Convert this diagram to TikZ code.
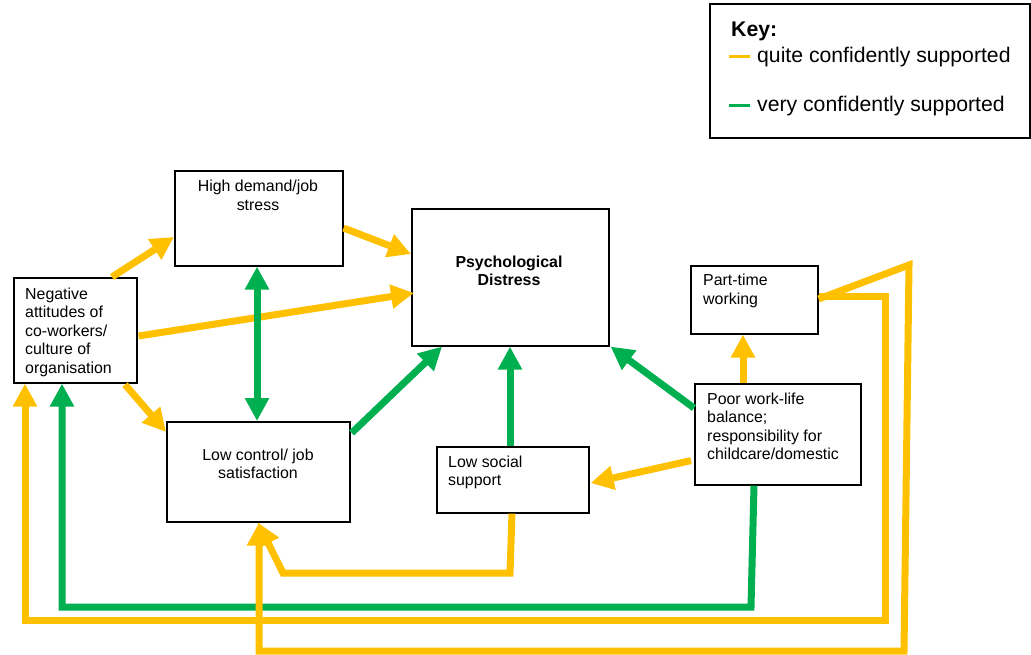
\documentclass[tikz,border=0pt]{standalone}
\usepackage{fontspec}
\setmainfont{Liberation Sans}
\usetikzlibrary{arrows.meta,calc}
\definecolor{qyel}{HTML}{FFC000}
\definecolor{vgrn}{HTML}{00B050}
\begin{document}
\begin{tikzpicture}[x=1pt,y=-1pt,
  box/.style={draw=black,line width=1.6pt,fill=white,inner sep=0pt,anchor=north west},
  txt/.style={inner sep=0pt,font=\fontsize{15.9}{18.5}\selectfont},
  keytxt/.style={inner sep=0pt,anchor=base west,font=\fontsize{21.2}{24}\selectfont},
  quite/.style={draw=qyel,line width=7pt},
  very/.style={draw=vgrn,line width=7pt},
  headed/.style={-{Triangle[length=23pt,width=23pt]}},
  twoheaded/.style={{Triangle[length=23pt,width=23pt]}-{Triangle[length=23pt,width=23pt]}},
  ]
\useasboundingbox (0,0) rectangle (1031,655);

% key
\node[box,minimum width=320pt,minimum height=134pt] (key) at (709,3) {};
\node[keytxt,font=\fontsize{21.2}{24}\selectfont\bfseries] (keyt) at (731,37) {Key:};
\node[keytxt] (kq) at (757,63) {quite confidently supported};
\node[keytxt] (kv) at (757,112) {very confidently supported};
\draw[draw=qyel,line width=3pt] ($(kq.base west)+(-28,-6)$) -- ++(21,0);
\draw[draw=vgrn,line width=3pt] ($(kv.base west)+(-28,-6)$) -- ++(21,0);

% boxes
\node[box,minimum width=168pt,minimum height=95pt] (hd) at (174,170) {};
\node[box,minimum width=123pt,minimum height=105pt] (neg) at (13,277) {};
\node[box,minimum width=197pt,minimum height=137pt] (pd) at (411,208) {};
\node[box,minimum width=127pt,minimum height=68pt] (pt) at (690,265) {};
\node[box,minimum width=166pt,minimum height=101pt] (pw) at (694,383) {};
\node[box,minimum width=183pt,minimum height=100pt] (lc) at (166,421) {};
\node[box,minimum width=152pt,minimum height=66pt] (ls) at (436,446) {};

% texts (base anchor = baseline of the last line)
\node[txt,anchor=base,align=center] (hdt) at (258,210.5) {High demand/job\\stress};
\node[txt,anchor=base west,align=left] (negt) at (25,373) {Negative\\attitudes of\\co-workers/\\culture of\\organisation};
\node[txt,anchor=base,align=center,font=\fontsize{15.9}{18.5}\selectfont\bfseries] (pdt) at (509,285.5) {Psychological\\Distress};
\node[txt,anchor=base west,align=left] (ptt) at (703,304.5) {Part-time\\working};
\node[txt,anchor=base west,align=left] (pwt) at (707,459.5) {Poor work-life\\balance;\\responsibility for\\childcare/domestic};
\node[txt,anchor=base,align=center] (lct) at (258,478.5) {Low control/ job\\satisfaction};
\node[txt,anchor=base west,align=left] (lst) at (448,485.5) {Low social\\support};

% connectors
\draw[quite,headed] ($(neg.north west)+(99,0)$) -- ($(hd.north west)+(0,67)$);
\draw[quite,headed] ($(hd.north east)+(0,58)$) -- ($(pd.north west)+(0,46)$);
\draw[quite,headed] ($(neg.north east)+(1,59)$) -- ($(pd.north west)+(3,85)$);
\draw[very,twoheaded] ($(hd.south west)+(83,0)$) -- ($(lc.north west)+(91,0)$);
\draw[quite,headed] ($(neg.south west)+(112,1)$) -- ($(lc.north west)+(0,11)$);
\draw[very,headed] ($(lc.north east)+(1,12)$) -- ($(pd.south west)+(31,0)$);
\draw[very,headed] ($(ls.north west)+(74,0)$) -- ($(pd.south west)+(99,0)$);
\draw[very,headed] ($(pw.north west)+(0,25)$) -- ($(pd.south east)+(1,0)$);
\draw[quite,headed] ($(pw.north west)+(49,0)$) -- ($(pt.south west)+(53,0)$);
\draw[quite,headed] ($(pw.south west)+(-3,-25)$) -- ($(ls.north east)+(1,37)$);

\draw[quite,headed] ($(ls.south west)+(76,0)$) -- (510,573) -- (283,573) -- ($(lc.south west)+(92,0)$);
\draw[very,headed] ($(pw.south west)+(60,0)$) -- (751,607) -- (62,607) -- ($(neg.south west)+(49,0)$);
\draw[quite,headed] ($(pt.north east)+(0,31)$) -- (885,296) -- (885,620) -- (25,620) -- ($(neg.south west)+(12,0)$);
\draw[quite,headed] ($(pt.north east)+(0,34)$) -- (909,265) -- (904,651) -- (259,651) -- ($(lc.south west)+(93,0)$);
\end{tikzpicture}
\end{document}
